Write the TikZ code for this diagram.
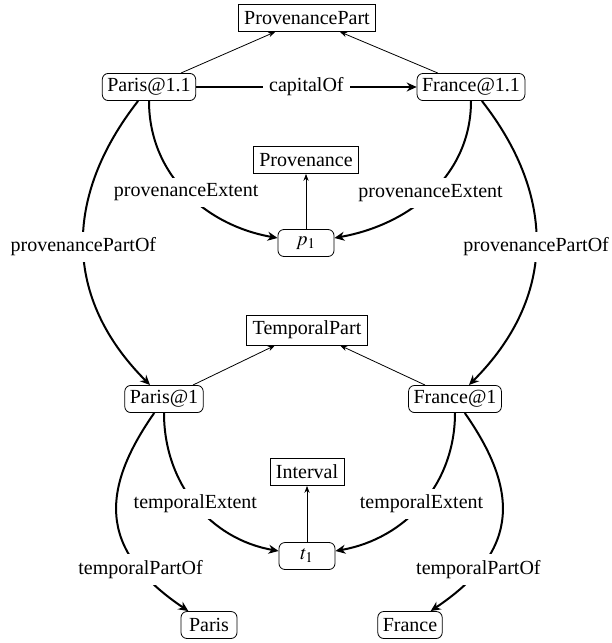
\documentclass[tikz,border=0pt]{standalone}
\usepackage{mathptmx}
\usepackage[no-math]{fontspec}
\setmainfont{Liberation Serif}
\usetikzlibrary{arrows.meta}

\begin{document}
\begin{tikzpicture}[x=0.5pt,y=-0.5pt,
  cls/.style={draw,line width=0.4pt,inner sep=3pt,minimum height=13.5pt},
  inst/.style={draw,line width=0.4pt,rounded corners=3pt,inner sep=2.5pt,minimum height=13.5pt,minimum width=28pt},
  rel/.style={line width=1pt,-{Stealth[length=5pt,width=4.5pt]}},
  isa/.style={line width=0.4pt,-{Stealth[length=3.5pt,width=2.6pt]}},
  lbl/.style={fill=white,inner sep=3pt}]
\useasboundingbox (0,0) rectangle (611,643);
% provenance part
\node[cls] (provpart) at (307,18) {ProvenancePart};
\node[inst] (paris11) at (149,87) {Paris@1.1};
\node[inst] (france11) at (471,87) {France@1.1};
\node[cls] (prov) at (306,160) {Provenance};
\node[inst] (p1) at (306,243) {$p_1$};
% temporal part
\node[cls] (temppart) at (307,330) {TemporalPart};
\node[inst] (paris1) at (164,399) {Paris@1};
\node[inst] (france1) at (455,399) {France@1};
\node[cls] (interval) at (307,472) {Interval};
\node[inst] (t1) at (307,556) {$t_1$};
% individuals
\node[inst] (paris) at (209,625) {Paris};
\node[inst] (france) at (410,625) {France};

\draw[isa] (paris11) -- (provpart);
\draw[isa] (france11) -- (provpart);
\draw[isa] (p1) -- (prov);
\draw[isa] (paris1) -- (temppart);
\draw[isa] (france1) -- (temppart);
\draw[isa] (t1) -- (interval);

\draw[rel] (paris11) -- node[lbl] {capitalOf} (france11);
\draw[rel] (paris11) to[out=270,in=170] node[lbl] {provenanceExtent} (p1);
\draw[rel] (france11) to[out=270,in=10] node[lbl] {provenanceExtent} (p1);
\draw[rel] (paris11) to[out=232,in=135,looseness=1.1] node[lbl] {provenancePartOf} (paris1);
\draw[rel] (france11) to[out=308,in=45,looseness=1.1] node[lbl] {provenancePartOf} (france1);
\draw[rel] (paris1) to[out=270,in=170] node[lbl] {temporalExtent} (t1);
\draw[rel] (france1) to[out=270,in=10] node[lbl] {temporalExtent} (t1);
\draw[rel] (paris1) to[out=235,in=146,looseness=1.3] node[lbl,pos=0.76] {temporalPartOf} (paris);
\draw[rel] (france1) to[out=305,in=34,looseness=1.3] node[lbl,pos=0.76] {temporalPartOf} (france);
\end{tikzpicture}
\end{document}
